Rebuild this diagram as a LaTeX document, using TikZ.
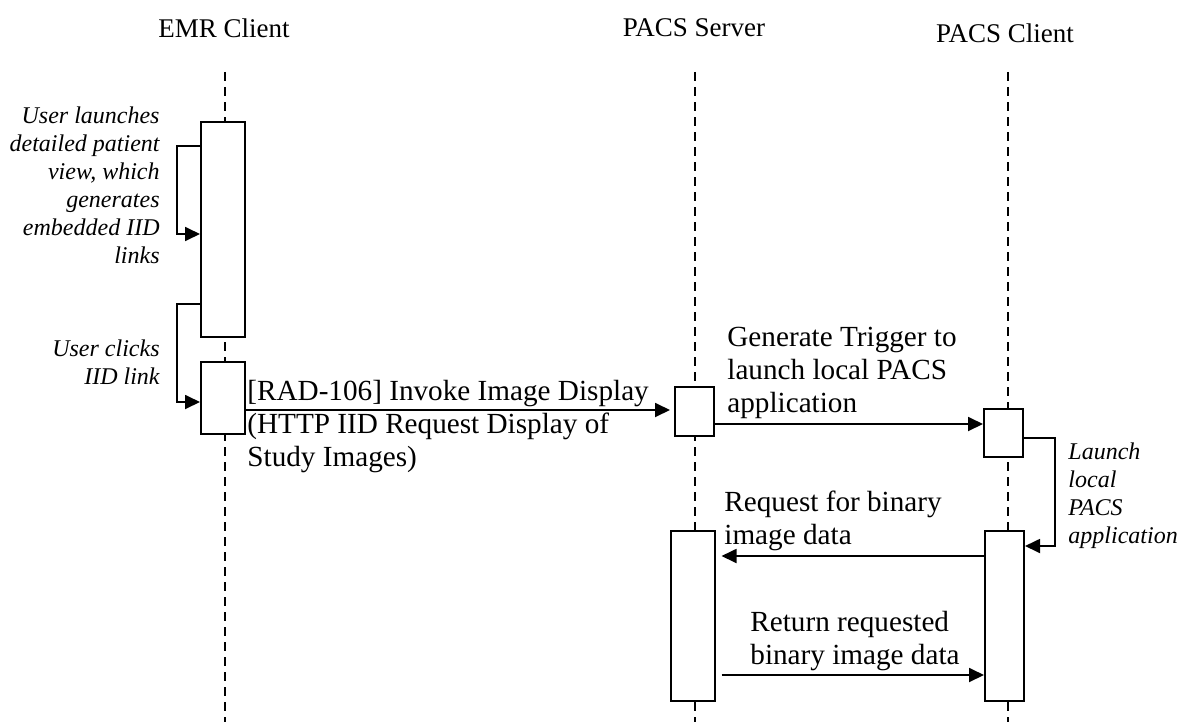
\documentclass[tikz,border=0pt]{standalone}
\usepackage{fontspec}
\setmainfont{Liberation Serif}
\usetikzlibrary{positioning, arrows.meta}
\tikzset{%
  life/.style={dash pattern=on 4.5pt off 3pt, line width=0.9pt},
  act/.style={draw, fill=white, line width=1pt, inner sep=0pt, minimum width=19.5pt},
  msg/.style={-{Triangle[length=7.5pt, width=7pt]}, line width=0.9pt},
  hd/.style={font=\fontsize{13.5}{16}\selectfont},
  lbl/.style={align=left, inner sep=0pt, font=\fontsize{14.6}{16.5}\selectfont},
  note/.style={inner sep=0pt, font=\fontsize{12}{14}\selectfont\itshape}
}

\begin{document}
\begin{tikzpicture}[x=0.5pt, y=-0.5pt]
        \useasboundingbox (0,0) rectangle (1186,722);
        % heads
        \node[hd] (emr) at (224,28)  {EMR Client};
        \node[hd] (srv) at (694,28)  {PACS Server};
        \node[hd] (cli) at (1005,33) {PACS Client};
        % life lines
        \coordinate (emrTop) at (225,72);  \coordinate (emrEnd) at (225,722);
        \coordinate (srvTop) at (695,72);  \coordinate (srvEnd) at (695,722);
        \coordinate (cliTop) at (1008,72); \coordinate (cliEnd) at (1008,722);
        \draw[life] (emrTop) -- (emrEnd);
        \draw[life] (srvTop) -- (srvEnd);
        \draw[life] (cliTop) -- (cliEnd);
        % activations
        \node[act, minimum width=22pt, minimum height=107.5pt] (emrA) at (223,229.5) {};
        \node[act, minimum width=22pt, minimum height=36pt]    (emrB) at (223,398)   {};
        \node[act, minimum height=24.5pt]                      (srvA) at (694.5,411.5) {};
        \node[act, minimum height=24pt]                        (cliA) at (1003.5,433) {};
        \node[act, minimum width=21.75pt, minimum height=85pt] (srvB) at (692.75,615.5) {};
        \node[act, minimum height=85pt]                        (cliB) at (1004.5,615.5) {};
        % message levels
        \coordinate (s1a) at (177,146); \coordinate (s1b) at (177,234);
        \coordinate (s2a) at (177,304); \coordinate (s2b) at (177,402);
        \coordinate (rad) at (0,410);
        \coordinate (gen) at (0,424);
        \coordinate (s3a) at (1055,438); \coordinate (s3b) at (1055,546);
        \coordinate (req) at (0,556);
        \coordinate (ret) at (0,675);
        % messages
        \draw[msg] (emrA.west |- s1a) -- (s1a) -- (s1b) -- (emrA.west |- s1b);
        \draw[msg] (emrA.west |- s2a) -- (s2a) -- (s2b) -- (emrB.west |- s2b);
        \draw[msg, shorten >=2pt] (emrB.east |- rad) -- (srvA.west |- rad);
        \draw[msg] (srvA.east |- gen) -- (cliA.west |- gen);
        \draw[msg] (cliA.east |- s3a) -- (s3a) -- (s3b) -- (cliB.east |- s3b);
        \draw[msg, shorten >=3pt] (cliB.west |- req) -- (srvB.east |- req);
        \draw[msg, shorten <=3pt] (srvB.east |- ret) -- (cliB.west |- ret);
        % texts
        \node[note, align=right, anchor=east] (n1) at (160,185)
          {User launches\\detailed patient\\view, which\\generates\\embedded IID\\links};
        \node[note, align=right, anchor=east] (n2) at (160,362) {User clicks\\IID link};
        \node[note, align=left, anchor=west] (n3) at (1068,496) {Launch\\local\\PACS\\application};
        \node[lbl, anchor=west] (l1) at (247,427)
          {[RAD-106] Invoke Image Display\\(HTTP IID Request Display of\\Study Images)};
        \node[lbl, anchor=west] (l2) at (727,373) {Generate Trigger to\\launch local PACS\\application};
        \node[lbl, anchor=west] (l3) at (724,521) {Request for binary\\image data};
        \node[lbl, anchor=west] (l4) at (750,641) {Return requested\\binary image data};
\end{tikzpicture}
\end{document}
